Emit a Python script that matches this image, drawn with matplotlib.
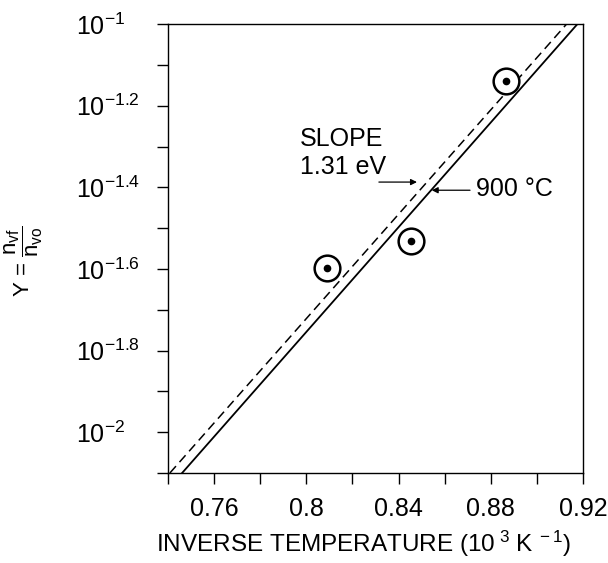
import numpy as np
import matplotlib
matplotlib.use("Agg")
import matplotlib.pyplot as plt
from matplotlib.ticker import FixedLocator, NullFormatter

plt.rcParams['font.family'] = ['Liberation Sans', 'DejaVu Sans']
plt.rcParams['mathtext.fontset'] = 'custom'
plt.rcParams['mathtext.rm'] = 'Liberation Sans'
plt.rcParams['mathtext.it'] = 'Liberation Sans'
plt.rcParams['mathtext.default'] = 'regular'

# measured points (1/T in 10^3 K^-1, Y = n_vf / n_vo)
inv_temp = [0.809, 0.8454, 0.8864]
y_ratio = [0.0252, 0.0294, 0.0724]

# fitted line (solid) and 1.31 eV slope line (dashed)
fit_x = [0.7462, 0.9175]
fit_y = [0.00794, 0.1]
slope_x = [0.7409, 0.9128]
slope_y = [0.00794, 0.1]

x_ticks = [0.76, 0.8, 0.84, 0.88, 0.92]
x_ticklabels = ['0.76', '0.8', '0.84', '0.88', '0.92']
x_minor = [0.74, 0.78, 0.82, 0.86, 0.90]
y_exps = [-1, -1.2, -1.4, -1.6, -1.8, -2]
y_minor_exps = [-1.1, -1.3, -1.5, -1.7, -1.9, -2.1]
y_ticklabels = ['$10^{-1}$', '$10^{-1.2}$', '$10^{-1.4}$', '$10^{-1.6}$',
                '$10^{-1.8}$', '$10^{-2}$']

T_mark = 900.0  # deg C
x_mark = 1000.0 / (T_mark + 273.15)

fig = plt.figure(figsize=(6.08, 5.63), dpi=100)
ax = fig.add_axes([0.276, 0.160, 0.683, 0.797])

ax.plot(fit_x, fit_y, color='k', lw=1.3)
ax.plot(slope_x, slope_y, color='k', lw=1.1, ls=(0, (6, 3.5)))

ax.plot(inv_temp, y_ratio, ls='none', marker='o', ms=18.5, mfc='white',
        mec='k', mew=1.8, zorder=3)
ax.plot(inv_temp, y_ratio, ls='none', marker='o', ms=4.5, mfc='k',
        mec='k', zorder=4)

ax.set_yscale('log')
ax.set_xlim(0.74, 0.92)
ax.set_ylim(10 ** -2.1, 10 ** -1)

ax.xaxis.set_major_locator(FixedLocator(x_ticks))
ax.set_xticklabels(x_ticklabels)
ax.xaxis.set_minor_locator(FixedLocator(x_minor))
ax.yaxis.set_major_locator(FixedLocator([10 ** e for e in y_exps]))
ax.set_yticklabels(y_ticklabels)
ax.yaxis.set_minor_locator(FixedLocator([10 ** e for e in y_minor_exps]))
ax.yaxis.set_minor_formatter(NullFormatter())

ax.tick_params(which='both', direction='out', length=8, width=1,
               top=False, right=False)
ax.tick_params(axis='x', labelsize=18, pad=9)
# y labels are left-aligned in a column
ax.tick_params(axis='y', labelsize=18, pad=58)
for lbl in ax.get_yticklabels():
    lbl.set_ha('left')
for s in ax.spines.values():
    s.set_linewidth(1)

ax.set_xlabel('INVERSE TEMPERATURE (10$^{\\ 3}$ K$^{\\ -1}$)', fontsize=17.5)
ax.xaxis.set_label_coords(0.472, -0.125)
ax.set_ylabel(r'Y = $\dfrac{n_{vf}}{n_{vo}}$', fontsize=16)
ax.yaxis.set_label_coords(-0.296, 0.472)

ax.text(0.7972, 10 ** -1.298, 'SLOPE', fontsize=18, ha='left', va='baseline')
ax.text(0.7972, 10 ** -1.368, '1.31 eV', fontsize=18, ha='left', va='baseline')
ax.annotate('', xy=(0.848, 10 ** -1.387), xytext=(0.8315, 10 ** -1.387),
            arrowprops=dict(arrowstyle='-|>', lw=0.9, color='k',
                            mutation_scale=9, shrinkA=0, shrinkB=0))
ax.annotate('', xy=(x_mark + 0.002, 10 ** -1.407), xytext=(0.871, 10 ** -1.407),
            arrowprops=dict(arrowstyle='-|>', lw=0.9, color='k',
                            mutation_scale=9, shrinkA=0, shrinkB=0))
ax.text(0.8735, 10 ** -1.404, '900 °C', fontsize=18, ha='left', va='center')

fig.savefig('out.png', dpi=100)
